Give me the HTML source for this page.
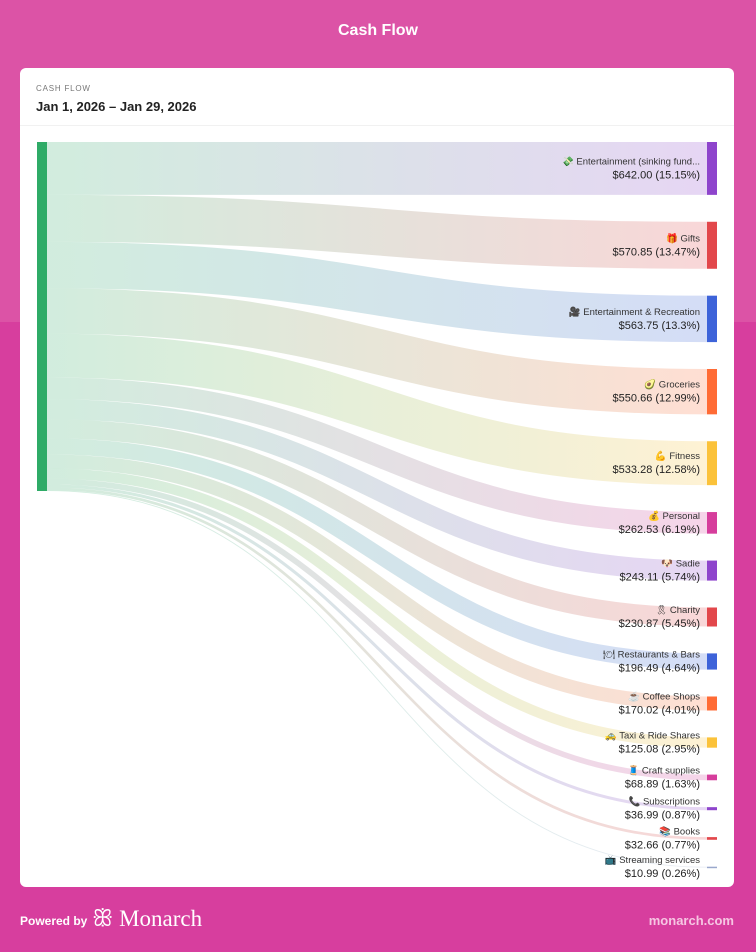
<!DOCTYPE html>
<html><head><meta charset="utf-8">
<style>
html,body{margin:0;padding:0}
body{width:756px;height:952px;overflow:hidden;background:linear-gradient(#dc53a6 0,#dc53a6 322px,#d73e9e 322px,#d73e9e 100%);font-family:"Liberation Sans","Noto Sans CJK JP",sans-serif;position:relative}
.title{position:absolute;top:22px;left:0;width:756px;text-align:center;color:#fff;font-weight:bold;font-size:16px}
.card{position:absolute;left:20px;top:68px;width:714px;height:819px;background:#fff;border-radius:6px;overflow:hidden}
.hdr{height:57px;border-bottom:1px solid #f1f1f1}
.k{position:absolute;left:16px;top:16px;font-size:8px;letter-spacing:.8px;color:#777}
.d{position:absolute;left:16px;top:31px;font-size:13px;font-weight:bold;color:#222}
svg{position:absolute;left:0;top:0}
.pb{position:absolute;left:20px;top:914px;color:#fff;font-weight:bold;font-size:12px}
.mo{position:absolute;left:92px;top:906px;color:#fff;font-family:"Liberation Serif",serif;font-size:23px}
.mc{position:absolute;right:22px;top:913px;color:#f6c6e3;font-weight:bold;font-size:13px}
</style></head><body>
<div class="title">Cash Flow</div>
<div class="card">
<div class="hdr">
<div class="k">CASH FLOW</div>
<div class="d">Jan 1, 2026 – Jan 29, 2026</div>
</div>
</div>
<svg id="chart" width="756" height="952"></svg>
<div class="pb">Powered by</div>
<div class="mo">ꕥ Monarch</div>
<div class="mc">monarch.com</div>
<script>
const categories=["💸 Entertainment (sinking fund...","🎁 Gifts","🎥 Entertainment & Recreation","🥑 Groceries","💪 Fitness","💰 Personal","🐶 Sadie","🎗 Charity","🍽 Restaurants & Bars","☕ Coffee Shops","🚕 Taxi & Ride Shares","🧵 Craft supplies","📞 Subscriptions","📚 Books","📺 Streaming services"];
const values=[642.00,570.85,563.75,550.66,533.28,262.53,243.11,230.87,196.49,170.02,125.08,68.89,36.99,32.66,10.99];
const percents=["15.15%","13.47%","13.3%","12.99%","12.58%","6.19%","5.74%","5.45%","4.64%","4.01%","2.95%","1.63%","0.87%","0.77%","0.26%"];
const colors=["#8e44cc","#e2474b","#3d63d9","#ff6b35","#fbc23a","#d63d9c","#8e44cc","#e2474b","#3d63d9","#ff6b35","#fbc23a","#d63d9c","#8e44cc","#e2474b","#9aa8cc"];
const svg=document.getElementById('chart');const NS='http://www.w3.org/2000/svg';
const total=values.reduce((a,b)=>a+b,0);
const top0=142,srcH=349,gap=26.9,x0=47,x1=707;
const sc=srcH/total;
function el(t,a){const e=document.createElementNS(NS,t);for(const k in a)e.setAttribute(k,a[k]);svg.appendChild(e);return e;}
const defs=el('defs',{});
let sy=top0,ty=top0;
values.forEach((v,i)=>{
 const h=v*sc;
 const g=document.createElementNS(NS,'linearGradient');g.setAttribute('id','g'+i);g.setAttribute('gradientUnits','userSpaceOnUse');
 g.setAttribute('x1',x0);g.setAttribute('x2',x1);g.setAttribute('y1',0);g.setAttribute('y2',0);
 g.innerHTML='<stop offset="0" stop-color="#2fab67"/><stop offset="1" stop-color="'+colors[i]+'"/>';defs.appendChild(g);
 const a=sy+h/2,b=ty+h/2,xm=(x0+x1)/2;
 const p=el('path',{d:`M${x0},${a}C${xm},${a} ${xm},${b} ${x1},${b}`,fill:'none',stroke:'url(#g'+i+')','stroke-width':Math.max(h,0.8),'stroke-opacity':0.22});
 
 
 const r=el('rect',{x:x1,y:ty,width:10,height:Math.max(h,1.5),fill:colors[i]});
 
 
 const mid=ty+h/2;
 const t1=el('text',{x:700,y:mid-4,'text-anchor':'end','font-size':'9.5',fill:'#333'});t1.textContent=categories[i];
 
 
 const t2=el('text',{x:700,y:mid+10,'text-anchor':'end','font-size':'11',fill:'#222'});t2.textContent='$'+v.toFixed(2)+' ('+percents[i]+')';
 
 
 sy+=h;ty+=h+gap;
});
const s=el('rect',{x:37,y:top0,width:10,height:srcH,fill:'#2fab67'});


</script>
</body></html>
